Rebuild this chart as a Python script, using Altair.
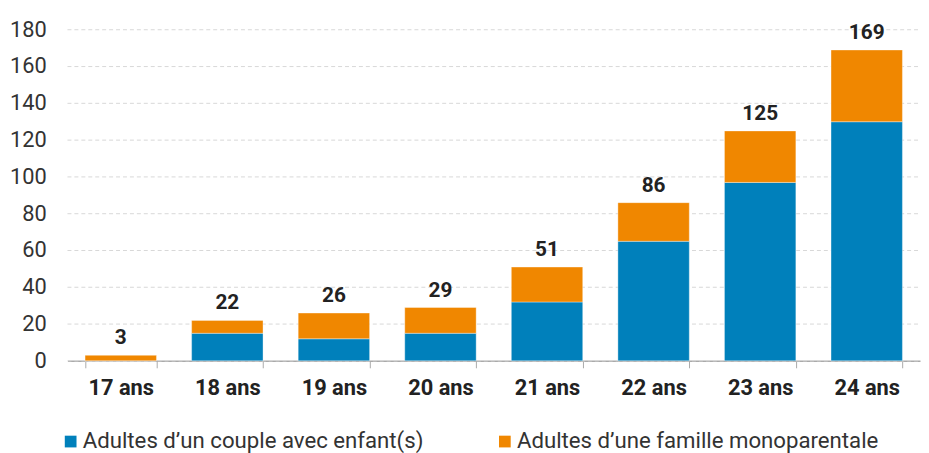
import altair as alt
import pandas as pd

ages = ["17 ans", "18 ans", "19 ans", "20 ans", "21 ans", "22 ans", "23 ans", "24 ans"]
couple = [0, 15, 12, 15, 32, 65, 97, 130]
mono = [3, 7, 14, 14, 19, 21, 28, 39]
totals = [3, 22, 26, 29, 51, 86, 125, 169]
series = ["Adultes d’un couple avec enfant(s)", "Adultes d’une famille monoparentale"]
colors = ["#0080BB", "#F08700"]
yticks = [0, 20, 40, 60, 80, 100, 120, 140, 160, 180]

rows = []
for i, a in enumerate(ages):
    rows.append({"age": a, "serie": series[0], "val": couple[i], "ord": 0})
    rows.append({"age": a, "serie": series[1], "val": mono[i], "ord": 1})
df = pd.DataFrame(rows)
tot = pd.DataFrame({"age": ages, "total": totals})
ticks_df = pd.DataFrame({"v": yticks})

FONT = "Roboto"
W, H = 860, 334

x = alt.X("age:N", sort=ages, title=None,
          scale=alt.Scale(paddingInner=0.33, paddingOuter=0.165))
y_scale = alt.Scale(domain=[0, 180], nice=False)

grid = alt.Chart(ticks_df).mark_rule(strokeDash=[4, 3], color="#d8d8d8", strokeWidth=1).encode(
    y=alt.Y("v:Q", scale=y_scale, axis=None, title=None),
    x=alt.value(0), x2=alt.value(W),
)

ylabels = alt.Chart(ticks_df).mark_text(align="right", baseline="middle", fontSize=22,
                                        color="#333", font=FONT).encode(
    y=alt.Y("v:Q", scale=y_scale, axis=None, title=None),
    x=alt.value(-21),
    text=alt.Text("v:Q"),
)

bars = alt.Chart(df).mark_bar(stroke="white", strokeWidth=0.6, strokeOpacity=0.6).encode(
    x=x,
    y=alt.Y("val:Q", stack="zero", title=None, scale=y_scale, axis=None),
    color=alt.Color("serie:N", sort=series,
                    scale=alt.Scale(domain=series, range=colors),
                    legend=alt.Legend(title=None, orient="none", direction="horizontal",
                                      legendX=-8, legendY=404, symbolType="square",
                                      symbolSize=140, symbolStrokeWidth=0,
                                      labelFontSize=22.4, labelColor="#333",
                                      labelFont=FONT, columnPadding=70,
                                      labelOffset=1, labelLimit=500, symbolOffset=0)),
    order=alt.Order("ord:Q"),
)

labels = alt.Chart(tot).mark_text(fontWeight="bold", fontSize=21, color="#222",
                                  baseline="alphabetic", dy=-11, font=FONT).encode(
    x=x,
    y=alt.Y("total:Q", scale=y_scale, axis=None, title=None),
    text=alt.Text("total:Q"),
)

chart = alt.layer(grid, ylabels, bars, labels).properties(
    width=W, height=H,
    autosize=alt.AutoSizeParams(type="none"),
    padding={"left": 60, "top": 20, "right": 1, "bottom": 91},
).configure_view(stroke=None).configure_axisX(
    labelAngle=0, labelFontWeight="bold", labelFontSize=22,
    labelColor="#222", labelPadding=10, tickBand="extent",
    tickSize=7, tickColor="#aaa", domainColor="#aaa",
    domainWidth=1.5, grid=False, labelFont=FONT, title=None,
)

chart.save("out.html", embed_options={"renderer": "svg", "actions": False})
